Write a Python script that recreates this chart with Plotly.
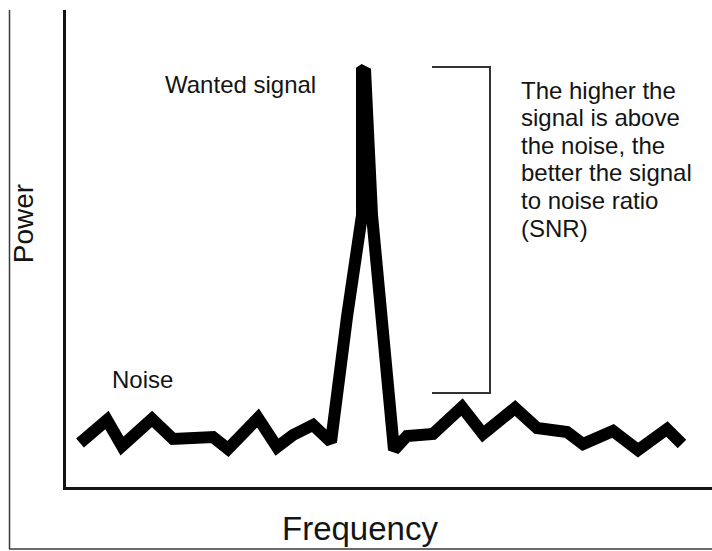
import plotly.graph_objects as go

# Spectrum trace (frequency, power) in arbitrary units
frequency = [14, 41, 56, 86, 107, 147, 162, 192, 211, 227, 247, 265, 281, 296, 296,
             299, 306, 319, 324, 328, 341, 367, 396, 417, 449, 471, 501, 517, 547,
             572, 601, 616]
power = [44, 67, 41, 68, 48, 50, 38, 69, 40, 52, 62, 45, 170, 272, 416,
         418, 272, 137, 87, 37, 51, 53, 80, 53, 79, 59, 55, 43, 56,
         37, 58, 43]

# SNR bracket (from noise level up to peak level)
bracket_x = [366, 424]
bracket_y = [94, 420]

x_title = "Frequency"
y_title = "Power"
label_signal = "Wanted signal"
label_noise = "Noise"
snr_lines = ["The higher the", "signal is above", "the noise, the",
             "better the signal", "to noise ratio", "(SNR)"]

FONT = "Liberation Sans, Arial, sans-serif"
INK = "#141414"

fig = go.Figure()
fig.add_trace(go.Scatter(
    x=frequency, y=power, mode="lines",
    line=dict(color="black", width=12),
    hoverinfo="skip", showlegend=False,
))

# bracket
fig.add_trace(go.Scatter(
    x=[bracket_x[0], bracket_x[1], bracket_x[1], bracket_x[0]],
    y=[bracket_y[1], bracket_y[1], bracket_y[0], bracket_y[0]],
    mode="lines", line=dict(color="#333333", width=2),
    hoverinfo="skip", showlegend=False,
))

annotations = [
    dict(x=97, y=403, xref="x", yref="y", text=label_signal, showarrow=False,
         xanchor="left", yanchor="middle", font=dict(family=FONT, size=24, color=INK)),
    dict(x=44, y=108, xref="x", yref="y", text=label_noise, showarrow=False,
         xanchor="left", yanchor="middle", font=dict(family=FONT, size=24, color=INK)),
    dict(x=294, y=-0.086, xref="x", yref="paper", text=x_title, showarrow=False,
         xanchor="center", yanchor="middle", font=dict(family=FONT, size=33, color=INK)),
    dict(x=-0.0666, y=0.553, xref="paper", yref="paper", text=y_title, showarrow=False,
         textangle=-90, xanchor="center", yanchor="middle",
         font=dict(family=FONT, size=28, color=INK)),
]
line_y0 = 397
for i, t in enumerate(snr_lines):
    annotations.append(dict(
        x=453, y=line_y0 - 27.6 * i, xref="x", yref="y", text=t, showarrow=False,
        xanchor="left", yanchor="middle", font=dict(family=FONT, size=24, color=INK)))

shapes = [
    # outer frame (left and bottom edges)
    dict(type="line", xref="paper", yref="paper",
         x0=(9.5 - 66) / 646, x1=(9.5 - 66) / 646,
         y0=(487 - 549) / 477, y1=1.0, line=dict(color="#3a3a3a", width=1.5)),
    dict(type="line", xref="paper", yref="paper",
         x0=(9 - 66) / 646, x1=1.0,
         y0=(487 - 549) / 477, y1=(487 - 549) / 477, line=dict(color="#3a3a3a", width=1.5)),
]

fig.update_layout(
    width=712, height=551, autosize=False,
    margin=dict(l=66, r=0, t=10, b=64, pad=0),
    paper_bgcolor="white", plot_bgcolor="white",
    annotations=annotations, shapes=shapes,
    xaxis=dict(range=[0, 646], showgrid=False, zeroline=False, showticklabels=False,
               ticks="", showline=True, linecolor=INK, linewidth=3, fixedrange=True),
    yaxis=dict(range=[0, 477], showgrid=False, zeroline=False, showticklabels=False,
               ticks="", showline=True, linecolor=INK, linewidth=3, fixedrange=True),
)

fig.write_html(
    "out.html",
    config={"displayModeBar": False},
    post_script="document.body.style.margin='0';document.body.style.overflow='hidden';",
)
